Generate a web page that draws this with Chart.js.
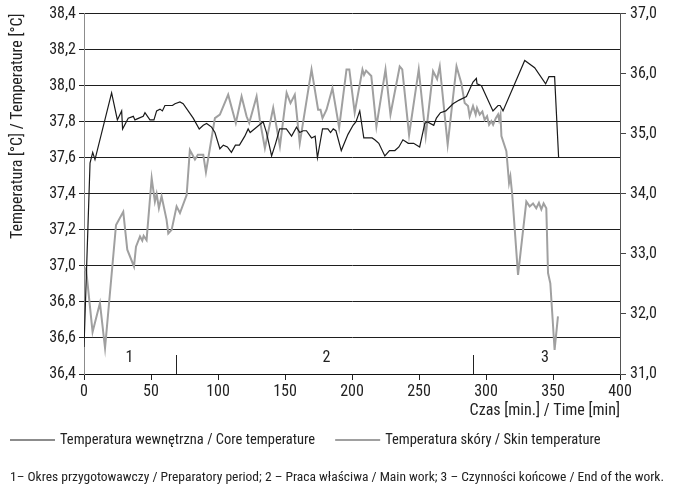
<!DOCTYPE html>
<html><head><meta charset="utf-8">
<script src="https://cdn.jsdelivr.net/npm/chart.js@4.4.1/dist/chart.umd.min.js"></script>
<style>html,body{margin:0;padding:0;background:#fff;}#wrap{position:relative;width:674px;height:500px;}</style>
</head><body><div id="wrap"><canvas id="c"></canvas></div>
<script>
const coreTime = [0,4.5,6.5,8.2,20.6,24.9,28.1,28.8,33,36.8,38,41,44.2,45.5,49.2,52.2,54.2,56.7,58.5,60.4,62.9,66,67.9,71.6,74,81.5,86,89,91.5,95.2,97.7,101.4,104,107,110,113,116,120,122.5,124,133.7,136.2,140,143,146,148.9,151,154.9,158.6,161,163.5,166,169.8,172.5,174.2,178,182,184,186,188,192,197,200.8,203,205.8,208.8,212,215,217,220,224.5,228,232,235,238,242,246,250.5,254.3,256,261,263,266,270,275.4,280,285.4,290.3,292.8,293.3,296.6,305.2,309,310.5,312.7,328.9,336.3,344.5,347,351.2,354.2];
const coreTemp = [36.55,37.57,37.63,37.59,37.96,37.81,37.86,37.76,37.82,37.83,37.81,37.82,37.83,37.85,37.81,37.81,37.86,37.87,37.86,37.89,37.89,37.89,37.90,37.91,37.90,37.82,37.76,37.78,37.79,37.77,37.74,37.65,37.67,37.66,37.63,37.67,37.67,37.72,37.76,37.74,37.80,37.74,37.61,37.68,37.76,37.76,37.76,37.72,37.77,37.74,37.75,37.75,37.71,37.72,37.60,37.76,37.76,37.74,37.76,37.75,37.64,37.73,37.78,37.80,37.86,37.71,37.71,37.71,37.70,37.68,37.61,37.64,37.64,37.66,37.70,37.68,37.68,37.66,37.79,37.80,37.78,37.82,37.85,37.86,37.90,37.92,37.94,38.02,38.04,38.01,38.00,37.86,37.89,37.89,37.86,38.14,38.10,38.01,38.05,38.05,37.60];
const skinTime = [0,1.5,6.4,11.9,15.7,23.9,29.3,32.3,37.3,38.8,41.8,43.5,44.5,46.7,50.5,52.9,54.2,55.9,57.9,61.6,62.9,65.4,69.1,71.6,76.6,79,82.8,85,89,91,97.7,101.4,107.6,113.3,117.6,121.3,123.3,128.8,131.2,135,141.2,146.2,151.2,154.1,157.3,161,169.8,174.7,176.5,178,181,185.4,190.4,195.9,198,202,207.8,209,210.5,214.4,218.2,225,228.7,235.6,237.5,242.6,249.8,255,260.5,263.5,265.5,271.4,278,281.6,284.1,286.6,287.8,290.3,292.3,293.3,295.3,297.3,299,300.8,302.3,304,305.3,307.3,309,309.8,310.8,311.5,315.2,317.2,318.2,319.6,323.9,330.1,332.6,335.1,337.5,339.5,341.3,343,345,346.3,348,351.2,353.7];
const skinTemp = [32.72,32.76,31.70,32.18,31.43,33.48,33.70,33.07,32.79,33.12,33.29,33.22,33.30,33.23,34.26,33.87,34.00,33.76,33.96,33.57,33.34,33.40,33.79,33.68,33.98,34.73,34.57,34.65,34.65,34.36,35.26,35.32,35.65,35.18,35.62,35.29,35.18,35.62,35.23,34.76,35.43,34.79,35.68,35.51,35.65,34.84,36.07,35.40,35.40,35.26,35.40,35.76,35.10,36.07,36.07,35.35,36.07,35.98,36.05,35.96,35.12,36.07,35.32,36.12,36.07,34.98,36.07,34.96,36.04,35.91,36.12,34.82,36.12,35.84,35.51,35.46,35.29,35.46,35.32,35.43,35.32,35.37,35.23,35.29,35.15,35.21,35.15,35.26,35.32,35.23,35.32,34.96,34.71,34.18,34.29,33.98,32.65,33.87,33.79,33.84,33.76,33.85,33.74,33.84,33.76,32.68,32.51,31.40,31.96];
const seriesNames = ['Temperatura wewnętrzna / Core temperature', 'Temperatura skóry / Skin temperature'];
const periodBounds = [69, 290.5];
const periodLabels = ['1', '2', '3'];
const periodLabelAt = [34, 181, 344];
const yTitle = 'Temperatura [°C] / Temperature [°C]';
const xTitle = 'Czas [min.] / Time [min]';
const footnote = '1– Okres przygotowawczy / Preparatory period; 2 – Praca właściwa / Main work; 3 – Czynności końcowe / End of the work.';

const FONT = "'Liberation Sans Narrow','Roboto Condensed','DejaVu Sans Condensed','Liberation Sans',sans-serif";
Chart.defaults.font.family = FONT;
Chart.defaults.color = '#222';
const comma = v => Number(v).toFixed(1).replace('.', ',');

const periodPlugin = {
  id: 'periods',
  afterDatasetsDraw(chart) {
    const {ctx, chartArea, scales: {x}} = chart;
    ctx.save();
    ctx.strokeStyle = '#222';
    ctx.lineWidth = 1;
    periodBounds.forEach(b => {
      const px = Math.round(x.getPixelForValue(b)) + 0.5;
      ctx.beginPath(); ctx.moveTo(px, chartArea.bottom); ctx.lineTo(px, chartArea.bottom - 19); ctx.stroke();
    });
    ctx.fillStyle = '#222';
    ctx.font = '16px ' + FONT;
    ctx.textAlign = 'center';
    ctx.textBaseline = 'middle';
    periodLabels.forEach((l, i) => ctx.fillText(l, x.getPixelForValue(periodLabelAt[i]), chartArea.bottom - 16));
    ctx.restore();
  }
};

// legend drawn from the datasets (line sample + label)
const lineLegend = {
  id: 'lineLegend',
  afterDraw(chart) {
    const {ctx} = chart;
    ctx.save();
    ctx.font = '14.5px ' + FONT;
    ctx.textBaseline = 'middle';
    ctx.textAlign = 'left';
    let x = 10;
    const y = 440;
    chart.data.datasets.forEach(ds => {
      ctx.strokeStyle = ds.borderColor;
      ctx.lineWidth = ds.borderWidth;
      ctx.beginPath(); ctx.moveTo(x, y); ctx.lineTo(x + 45, y); ctx.stroke();
      x += 50;
      ctx.fillStyle = '#222';
      ctx.fillText(ds.label, x, y);
      x += ctx.measureText(ds.label).width + 20;
    });
    ctx.restore();
  }
};

const core = coreTime.map((t, i) => ({x: t, y: coreTemp[i]}));
const skin = skinTime.map((t, i) => ({x: t, y: skinTemp[i]}));

new Chart(document.getElementById('c'), {
  type: 'line',
  data: {
    datasets: [
      {label: seriesNames[0], data: core, yAxisID: 'y', borderColor: '#1a1a1a', backgroundColor: '#1a1a1a', borderWidth: 1.2, pointRadius: 0, tension: 0},
      {label: seriesNames[1], data: skin, yAxisID: 'y2', borderColor: '#a0a0a0', backgroundColor: '#a0a0a0', borderWidth: 2, pointRadius: 0, tension: 0}
    ]
  },
  options: {
    responsive: true,
    maintainAspectRatio: false,
    animation: false,
    layout: {padding: {top: 7, left: 0, right: 0, bottom: 0}},
    plugins: {
      tooltip: {enabled: false},
      legend: {display: false},
      subtitle: {display: true, position: 'bottom', text: footnote, font: {size: 13.5}, color: '#222', padding: {top: 48.9, bottom: 13.9}}
    },
    scales: {
      x: {
        type: 'linear', min: 0, max: 400,
        ticks: {stepSize: 50, font: {size: 16}, color: '#222', padding: 2, maxRotation: 0},
        grid: {drawOnChartArea: false, drawTicks: true, tickLength: 6, color: '#222'},
        border: {color: '#111', width: 1},
        title: {display: true, text: xTitle, align: 'end', font: {size: 16}, color: '#222', padding: {top: 0, bottom: 0}},
        afterFit: s => { s.height = 47; }
      },
      y: {
        position: 'left', min: 36.4, max: 38.4,
        ticks: {stepSize: 0.2, font: {size: 16}, color: '#222', padding: 3, callback: v => comma(v)},
        grid: {color: '#1e1e1e', tickLength: 5, lineWidth: 1},
        border: {color: '#8c8c8c', width: 1},
        title: {display: true, text: yTitle, align: 'end', font: {size: 16}, color: '#222', padding: {top: 8, bottom: 2}},
        afterFit: s => { s.width = 84; }
      },
      y2: {
        position: 'right', min: 31, max: 37,
        ticks: {stepSize: 1, font: {size: 16}, color: '#222', padding: 4, callback: v => comma(v)},
        grid: {drawOnChartArea: false, tickLength: 6, color: '#444'},
        border: {color: '#555', width: 1},
        afterFit: s => { s.width = 54; }
      }
    }
  },
  plugins: [periodPlugin, lineLegend]
});
</script></body></html>
